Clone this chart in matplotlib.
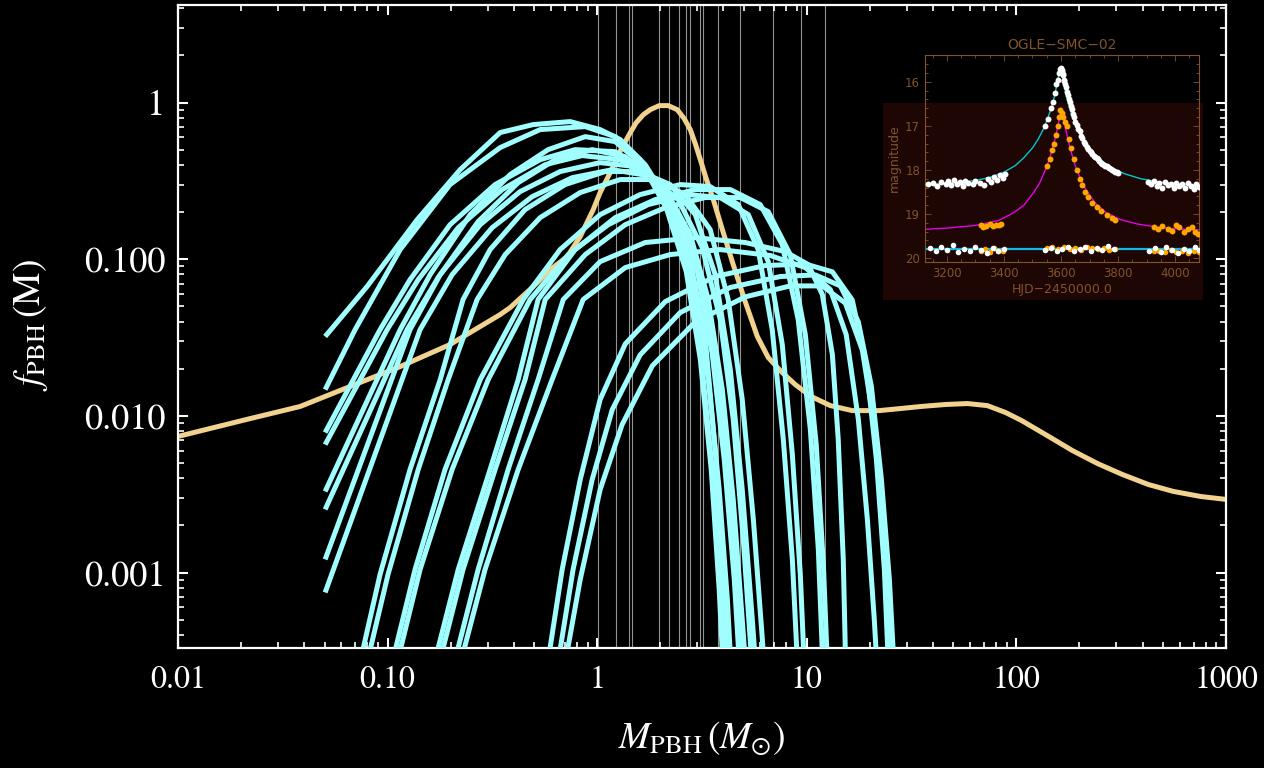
import numpy as np
import matplotlib
matplotlib.use("Agg")
import matplotlib.pyplot as plt
from matplotlib.patches import Rectangle
from matplotlib.ticker import FixedLocator, FixedFormatter, LogLocator, NullFormatter, MultipleLocator

plt.rcParams['font.family'] = ['STIXGeneral', 'DejaVu Serif']
plt.rcParams['mathtext.fontset'] = 'stix'

### Main panel: axes ticks
x_ticks = [0.01, 0.1, 1, 10, 100, 1000]
x_ticklabels = ["0.01", "0.10", "1", "10", "100", "1000"]
y_ticks = [0.001, 0.01, 0.1, 1]
y_ticklabels = ["0.001", "0.010", "0.100", "1"]

# masses of the observed events (thin grey lines), in solar masses
event_masses = [1.01, 1.23, 1.42, 1.47, 1.98, 2.21, 2.46, 2.66, 2.78, 3.08,
                3.20, 3.75, 4.78, 6.87, 9.41, 12.25]

# best-fit PBH fraction (yellow), log10 M and log10 f
fit_lgM = [-2.0, -1.656, -1.418, -1.179, -0.940, -0.702, -0.463, -0.415, -0.305,
           -0.224, -0.143, -0.081, -0.019, 0.014, 0.043, 0.076, 0.115, 0.158, 0.186,
           0.220, 0.253, 0.296, 0.339, 0.382, 0.415, 0.444, 0.468, 0.492, 0.520,
           0.554, 0.597, 0.649, 0.706, 0.764, 0.816, 0.878, 0.945, 1.021, 1.112,
           1.217, 1.346, 1.446, 1.542, 1.661, 1.766, 1.861, 1.948, 2.024, 2.139,
           2.267, 2.387, 2.506, 2.630, 2.749, 2.878, 3.0]
fit_lgf = [-2.131, -2.017, -1.940, -1.812, -1.685, -1.544, -1.353, -1.308, -1.174,
           -1.066, -0.983, -0.855, -0.683, -0.574, -0.498, -0.408, -0.294, -0.191,
           -0.128, -0.077, -0.045, -0.019, -0.019, -0.045, -0.102, -0.172, -0.262,
           -0.364, -0.485, -0.619, -0.810, -1.034, -1.270, -1.493, -1.627, -1.717,
           -1.800, -1.876, -1.934, -1.966, -1.966, -1.953, -1.940, -1.927, -1.921,
           -1.934, -1.978, -2.029, -2.119, -2.221, -2.304, -2.374, -2.438, -2.482,
           -2.514, -2.533]

# mass functions starting at M = 0.05 (cyan), log10 M / log10 f
start_lgM = [
    [-1.298, -1.098, -0.859, -0.654, -0.463, -0.305, -0.129, 0.014, 0.110, 0.229, 0.348, 0.444, 0.516, 0.563, 0.597, 0.625],
    [-1.298, -1.155, -0.940, -0.702, -0.463, -0.272, -0.057, 0.086, 0.205, 0.325, 0.420, 0.492, 0.549, 0.587, 0.621],
    [-1.298, -1.036, -0.893, -0.702, -0.487, -0.272, -0.105, 0.086, 0.243, 0.372, 0.477, 0.549, 0.606, 0.654, 0.683],
    [-1.298, -1.002, -0.854, -0.663, -0.453, -0.248, -0.072, 0.110, 0.263, 0.396, 0.492, 0.563, 0.621, 0.668, 0.697],
    [-1.298, -0.940, -0.797, -0.606, -0.415, -0.234, -0.057, 0.086, 0.215, 0.329, 0.425, 0.492, 0.544, 0.582, 0.606],
    [-1.298, -0.907, -0.759, -0.568, -0.377, -0.200, -0.024, 0.134, 0.263, 0.372, 0.463, 0.530, 0.582, 0.621, 0.644],
    [-1.298, -0.893, -0.749, -0.558, -0.368, -0.177, 0.014, 0.181, 0.325, 0.444, 0.530, 0.597, 0.649, 0.692, 0.716],
    [-1.298, -0.845, -0.692, -0.501, -0.310, -0.119, 0.072, 0.243, 0.387, 0.501, 0.587, 0.649, 0.697, 0.730, 0.749],
]
start_lgf = [
    [-1.493, -1.174, -0.747, -0.428, -0.191, -0.140, -0.121, -0.172, -0.236, -0.396, -0.651, -1.002, -1.512, -2.214, -2.916, -3.682],
    [-1.832, -1.449, -0.938, -0.523, -0.287, -0.172, -0.153, -0.217, -0.364, -0.619, -1.002, -1.576, -2.342, -3.044, -3.682],
    [-2.106, -1.449, -1.130, -0.779, -0.523, -0.364, -0.300, -0.313, -0.440, -0.683, -1.066, -1.608, -2.278, -3.044, -3.682],
    [-2.183, -1.449, -1.130, -0.798, -0.555, -0.396, -0.338, -0.364, -0.491, -0.747, -1.130, -1.672, -2.342, -3.108, -3.746],
    [-2.482, -1.449, -1.098, -0.715, -0.459, -0.300, -0.217, -0.249, -0.396, -0.670, -1.079, -1.640, -2.342, -3.108, -3.746],
    [-2.597, -1.449, -1.117, -0.759, -0.511, -0.364, -0.300, -0.345, -0.504, -0.779, -1.193, -1.768, -2.470, -3.172, -3.746],
    [-2.916, -1.449, -1.098, -0.779, -0.568, -0.440, -0.383, -0.408, -0.555, -0.842, -1.257, -1.832, -2.533, -3.299, -3.746],
    [-3.127, -1.449, -1.098, -0.798, -0.600, -0.479, -0.428, -0.466, -0.619, -0.925, -1.385, -2.023, -2.789, -3.427, -3.810],
]

# mass functions rising from below the plotted range (cyan)
rise_lgM = [
    [-1.150, -1.036, -0.893, -0.749, -0.640, -0.511, -0.344, -0.153, 0.038, 0.205, 0.348, 0.468, 0.563, 0.635, 0.692, 0.740, 0.764],
    [-1.117, -0.998, -0.854, -0.711, -0.573, -0.439, -0.272, -0.081, 0.110, 0.277, 0.420, 0.539, 0.625, 0.692, 0.745, 0.788, 0.807],
    [-0.998, -0.869, -0.726, -0.558, -0.353, -0.177, 0.014, 0.205, 0.396, 0.539, 0.673, 0.768, 0.835, 0.888, 0.931, 0.959],
    [-0.974, -0.845, -0.692, -0.520, -0.320, -0.138, 0.053, 0.243, 0.434, 0.587, 0.721, 0.816, 0.883, 0.931, 0.969, 0.993],
    [-0.797, -0.663, -0.511, -0.377, -0.282, -0.105, 0.086, 0.277, 0.468, 0.635, 0.778, 0.883, 0.959, 1.017, 1.055, 1.079],
    [-0.773, -0.640, -0.487, -0.344, -0.248, -0.057, 0.134, 0.325, 0.515, 0.683, 0.816, 0.921, 0.993, 1.045, 1.079, 1.103],
    [-0.702, -0.568, -0.425, -0.282, -0.162, 0.014, 0.229, 0.468, 0.706, 0.897, 1.007, 1.074, 1.122, 1.150, 1.174, 1.188],
    [-0.673, -0.535, -0.377, -0.215, -0.067, 0.134, 0.348, 0.587, 0.826, 0.993, 1.112, 1.188, 1.246, 1.289, 1.322, 1.341],
    [-0.248, -0.167, -0.081, 0.014, 0.134, 0.325, 0.563, 0.802, 0.993, 1.122, 1.217, 1.284, 1.332, 1.370, 1.394],
    [-0.200, -0.115, -0.024, 0.072, 0.205, 0.396, 0.635, 0.874, 1.041, 1.160, 1.246, 1.308, 1.356, 1.394, 1.422],
    [-0.167, -0.081, 0.014, 0.119, 0.263, 0.468, 0.706, 0.921, 1.074, 1.184, 1.265, 1.322, 1.365, 1.399, 1.418],
]
rise_lgf = [
    [-3.682, -3.012, -2.342, -1.768, -1.257, -0.938, -0.683, -0.523, -0.440, -0.440, -0.523, -0.715, -1.098, -1.704, -2.470, -3.299, -3.746],
    [-3.682, -3.012, -2.342, -1.768, -1.257, -0.970, -0.734, -0.574, -0.491, -0.491, -0.587, -0.810, -1.257, -1.895, -2.661, -3.427, -3.810],
    [-3.682, -2.980, -2.342, -1.768, -1.257, -0.938, -0.715, -0.587, -0.523, -0.536, -0.651, -0.938, -1.449, -2.151, -2.916, -3.682],
    [-3.682, -2.980, -2.342, -1.768, -1.257, -0.970, -0.779, -0.651, -0.587, -0.606, -0.715, -1.015, -1.544, -2.246, -3.012, -3.746],
    [-3.682, -2.980, -2.342, -1.768, -1.257, -0.938, -0.734, -0.619, -0.555, -0.555, -0.651, -0.906, -1.385, -2.087, -2.853, -3.682],
    [-3.682, -2.980, -2.342, -1.768, -1.257, -0.970, -0.779, -0.670, -0.606, -0.606, -0.696, -0.970, -1.481, -2.183, -2.948, -3.746],
    [-3.682, -2.980, -2.342, -1.768, -1.257, -1.015, -0.893, -0.862, -0.893, -0.951, -1.034, -1.225, -1.608, -2.151, -2.916, -3.746],
    [-3.682, -2.980, -2.342, -1.768, -1.257, -1.053, -0.970, -0.938, -0.976, -1.053, -1.193, -1.481, -2.023, -2.661, -3.299, -3.746],
    [-3.682, -2.980, -2.406, -1.895, -1.540, -1.270, -1.110, -1.040, -1.030, -1.080, -1.260, -1.680, -2.278, -2.980, -3.746],
    [-3.682, -2.980, -2.406, -1.959, -1.610, -1.340, -1.180, -1.110, -1.100, -1.170, -1.400, -1.810, -2.406, -3.044, -3.746],
    [-3.682, -3.044, -2.470, -2.055, -1.680, -1.400, -1.240, -1.170, -1.170, -1.280, -1.580, -2.060, -2.661, -3.299, -3.746],
]

### Inset: OGLE-SMC-02 light curve (HJD-2450000, magnitude)
model_i_t = [3120, 3200, 3300, 3350, 3400, 3440, 3470, 3500, 3520, 3540, 3555, 3568,
             3578, 3586, 3592, 3598, 3604, 3610, 3618, 3628, 3640, 3655, 3675, 3700,
             3730, 3770, 3820, 3880, 3950, 4020, 4085]
model_i_m = [18.34, 18.31, 18.24, 18.17, 18.05, 17.9, 17.72, 17.5, 17.3, 17.05, 16.8,
             16.55, 16.3, 16.05, 15.85, 15.7, 15.85, 16.05, 16.3, 16.55, 16.8, 17.05,
             17.3, 17.52, 17.72, 17.92, 18.08, 18.2, 18.28, 18.32, 18.35]
model_v_t = [3120, 3200, 3300, 3380, 3432, 3470, 3503, 3525, 3545, 3561, 3575, 3586,
             3594, 3600, 3606, 3614, 3624, 3636, 3650, 3668, 3690, 3720, 3760, 3810,
             3870, 3940, 4010, 4088]
model_v_m = [19.35, 19.32, 19.26, 19.15, 18.98, 18.8, 18.52, 18.3, 18.0, 17.72, 17.4,
             17.1, 16.85, 16.65, 16.8, 17.0, 17.3, 17.6, 17.9, 18.2, 18.48, 18.75,
             18.98, 19.13, 19.23, 19.3, 19.34, 19.36]
resid_level = 19.8

white_t = [3135, 3150, 3165, 3180, 3195, 3205, 3215, 3225, 3235, 3245, 3255, 3265,
           3275, 3290, 3300, 3315, 3330, 3345, 3355, 3365, 3375, 3385, 3395, 3405,
           3545, 3555, 3565, 3572, 3578, 3584, 3588, 3592, 3596, 3600, 3604, 3608,
           3612, 3618, 3624, 3630, 3638, 3646, 3655, 3665, 3675, 3685, 3695, 3705,
           3715, 3725, 3735, 3745, 3755, 3765, 3775, 3785, 3795,
           3602, 3606, 3610, 3615, 3621, 3627, 3634, 3642, 3650, 3660, 3670, 3680,
           3690, 3700, 3710, 3720, 3730, 3740, 3750, 3760, 3770, 3780, 3790, 3800,
           3905, 3915, 3925, 3935, 3945, 3955, 3965, 3975, 3985, 3995, 4005, 4015,
           4025, 4035, 4045, 4055, 4065, 4075, 4085]
white_m = [18.33, 18.30, 18.36, 18.28, 18.33, 18.25, 18.35, 18.22, 18.31, 18.27, 18.36,
           18.24, 18.30, 18.33, 18.26, 18.30, 18.35, 18.21, 18.27, 18.15, 18.22, 18.12,
           18.18, 18.10,
           17.0, 16.85, 16.6, 16.45, 16.25, 16.05, 15.95, 15.8, 15.7, 15.68, 15.75, 15.85,
           15.98, 16.12, 16.3, 16.45, 16.62, 16.8, 16.98, 17.12, 17.28, 17.42, 17.52,
           17.6, 17.68, 17.72, 17.8, 17.87, 17.9, 17.93, 17.98, 18.02, 18.05,
           15.72, 15.82, 15.95, 16.05, 16.22, 16.4, 16.55, 16.72, 16.9, 17.06, 17.22,
           17.36, 17.48, 17.56, 17.64, 17.7, 17.76, 17.84, 17.88, 17.92, 17.96, 18.0,
           18.04, 18.06,
           18.28, 18.33, 18.25, 18.36, 18.30, 18.40, 18.27, 18.35, 18.31, 18.42, 18.29,
           18.37, 18.33, 18.40, 18.30, 18.36, 18.43, 18.33, 18.38]
orange_t = [3318, 3328, 3338, 3350, 3362, 3372, 3382, 3390,
            3552, 3560, 3568, 3575, 3582, 3588, 3593, 3598, 3603, 3608, 3614, 3620,
            3628, 3636, 3645, 3655, 3665, 3675, 3685, 3695, 3710, 3725, 3740, 3760,
            3780, 3790,
            3925, 3940, 3955, 3975, 3990, 4005, 4015, 4030, 4045, 4060, 4070, 4080]
orange_m = [19.25, 19.30, 19.28, 19.22, 19.27, 19.24, 19.26, 19.23,
            17.9, 17.75, 17.55, 17.4, 17.2, 17.0, 16.8, 16.65, 16.7, 16.8, 16.9, 17.0,
            17.3, 17.5, 17.75, 18.0, 18.2, 18.35, 18.5, 18.62, 18.75, 18.85, 18.93,
            19.02, 19.1, 19.14,
            19.3, 19.33, 19.28, 19.35, 19.38, 19.25, 19.3, 19.4, 19.33, 19.3, 19.42, 19.45]
res_white_t = [3140, 3160, 3180, 3200, 3220, 3240, 3260, 3280, 3300, 3320, 3340, 3360,
               3380, 3400, 3545, 3565, 3585, 3605, 3625, 3645, 3665, 3685, 3705, 3725,
               3745, 3765, 3785, 3910, 3930, 3950, 3970, 3990, 4010, 4030, 4050, 4070, 4085]
res_white_m = [19.78, 19.83, 19.75, 19.81, 19.70, 19.86, 19.79, 19.84, 19.76, 19.82,
               19.88, 19.77, 19.85, 19.80, 19.82, 19.78, 19.84, 19.80, 19.76, 19.83,
               19.79, 19.74, 19.85, 19.78, 19.82, 19.72, 19.80, 19.84, 19.78, 19.86,
               19.76, 19.82, 19.88, 19.79, 19.83, 19.75, 19.81]
res_orange_t = [3320, 3335, 3350, 3365, 3380, 3395, 3550, 3570, 3590, 3610, 3630, 3650,
                3670, 3690, 3710, 3730, 3750, 3770, 3790, 3925, 3945, 3965, 3985, 4005,
                4025, 4045, 4065, 4085]
res_orange_m = [19.84, 19.80, 19.86, 19.78, 19.83, 19.85, 19.78, 19.76, 19.80, 19.75,
                19.79, 19.77, 19.81, 19.76, 19.78, 19.80, 19.77, 19.82, 19.79, 19.85,
                19.83, 19.87, 19.82, 19.86, 19.84, 19.88, 19.85, 19.87]

inset_xticks = [3200, 3400, 3600, 3800, 4000]
inset_yticks = [16, 17, 18, 19, 20]

CYAN = '#a0fefe'
GOLD = '#f1d28e'
BROWN = '#80532a'

fig = plt.figure(figsize=(12.64, 7.68), dpi=100, facecolor='black')
ax = fig.add_axes([178 / 1264, 1 - 648 / 768, 1048 / 1264, 643 / 768])
ax.set_facecolor('black')
ax.set_xscale('log')
ax.set_yscale('log')

for m in event_masses:
    ax.axvline(m, color='#939393', lw=0.8, zorder=1)

ax.plot(10 ** np.array(fit_lgM), 10 ** np.array(fit_lgf), color=GOLD, lw=3.6,
        solid_joinstyle='round', zorder=2)

for lm, lf in zip(start_lgM + rise_lgM, start_lgf + rise_lgf):
    ax.plot(10 ** np.array(lm), 10 ** np.array(lf), color=CYAN, lw=3.6,
            solid_capstyle='butt', solid_joinstyle='round', zorder=3)

ax.set_xlim(0.01, 1000)
ax.set_ylim(3.3e-4, 4.2)

ax.xaxis.set_major_locator(FixedLocator(x_ticks))
ax.xaxis.set_major_formatter(FixedFormatter(x_ticklabels))
ax.yaxis.set_major_locator(FixedLocator(y_ticks))
ax.yaxis.set_major_formatter(FixedFormatter(y_ticklabels))
for a in (ax.xaxis, ax.yaxis):
    a.set_minor_locator(LogLocator(base=10, subs=np.arange(2, 10), numticks=20))
    a.set_minor_formatter(NullFormatter())

for s in ax.spines.values():
    s.set_color('white')
    s.set_linewidth(1.6)
ax.tick_params(which='both', direction='in', top=True, right=True, colors='white')
ax.tick_params(which='major', length=7, width=1.5)
ax.tick_params(which='minor', length=4, width=1.2)
ax.tick_params(axis='x', labelsize=23, pad=13)
ax.tick_params(axis='y', labelsize=26, pad=9)

fig.text(702 / 1264, 1 - 738 / 768, r'$M_{\rm PBH}\,(M_{\odot})$', color='white',
         fontsize=27, ha='center', va='center')
fig.text(30 / 1264, 1 - 325 / 768, r'$f_{\rm PBH}\,$(M)', color='white',
         fontsize=27, ha='center', va='center', rotation=90)

### Inset
fig.patches.append(Rectangle((883 / 1264, 1 - 300 / 768), 320 / 1264, 197 / 768,
                             transform=fig.transFigure, facecolor='#1e0604',
                             edgecolor='none', zorder=2))
ins = fig.add_axes([925 / 1264, 1 - 262 / 768, 274 / 1264, 207 / 768], zorder=5)
ins.set_facecolor('none')
ins.plot(model_i_t, model_i_m, color='#00c8d2', lw=1.0, zorder=2)
ins.plot(model_v_t, model_v_m, color='#e600e6', lw=1.0, zorder=2)
ins.axhline(resid_level, color='#10b8e8', lw=1.6, zorder=2)
ins.scatter(res_orange_t, res_orange_m, s=16, color='#ffa500', lw=0, zorder=3)
ins.scatter(res_white_t, res_white_m, s=16, color='white', lw=0, zorder=3)
ins.scatter(orange_t, orange_m, s=18, color='#ffa500', lw=0, zorder=3)
ins.scatter(white_t, white_m, s=18, color='white', lw=0, zorder=4)
ins.set_xlim(3123, 4084)
ins.set_ylim(20.09, 15.39)
ins.set_xticks(inset_xticks)
ins.set_yticks(inset_yticks)
ins.xaxis.set_minor_locator(MultipleLocator(50))
ins.yaxis.set_minor_locator(MultipleLocator(0.2))
for s in ins.spines.values():
    s.set_color(BROWN)
    s.set_linewidth(0.8)
ins.tick_params(which='both', direction='in', top=True, right=True, colors=BROWN,
                labelcolor=BROWN, labelsize=8.5, width=0.6)
ins.tick_params(which='major', length=4)
ins.tick_params(which='minor', length=2)
for lab in ins.get_xticklabels() + ins.get_yticklabels():
    lab.set_family('DejaVu Sans')
ins.set_title('OGLE\u2212SMC\u221202', color=BROWN, fontsize=10, family='DejaVu Sans', pad=4)
ins.set_xlabel('HJD\u22122450000.0', color=BROWN, fontsize=9, family='DejaVu Sans', labelpad=2)
ins.set_ylabel('magnitude', color=BROWN, fontsize=9, family='DejaVu Sans', labelpad=3)

fig.savefig('out.png', dpi=100, facecolor='black')
